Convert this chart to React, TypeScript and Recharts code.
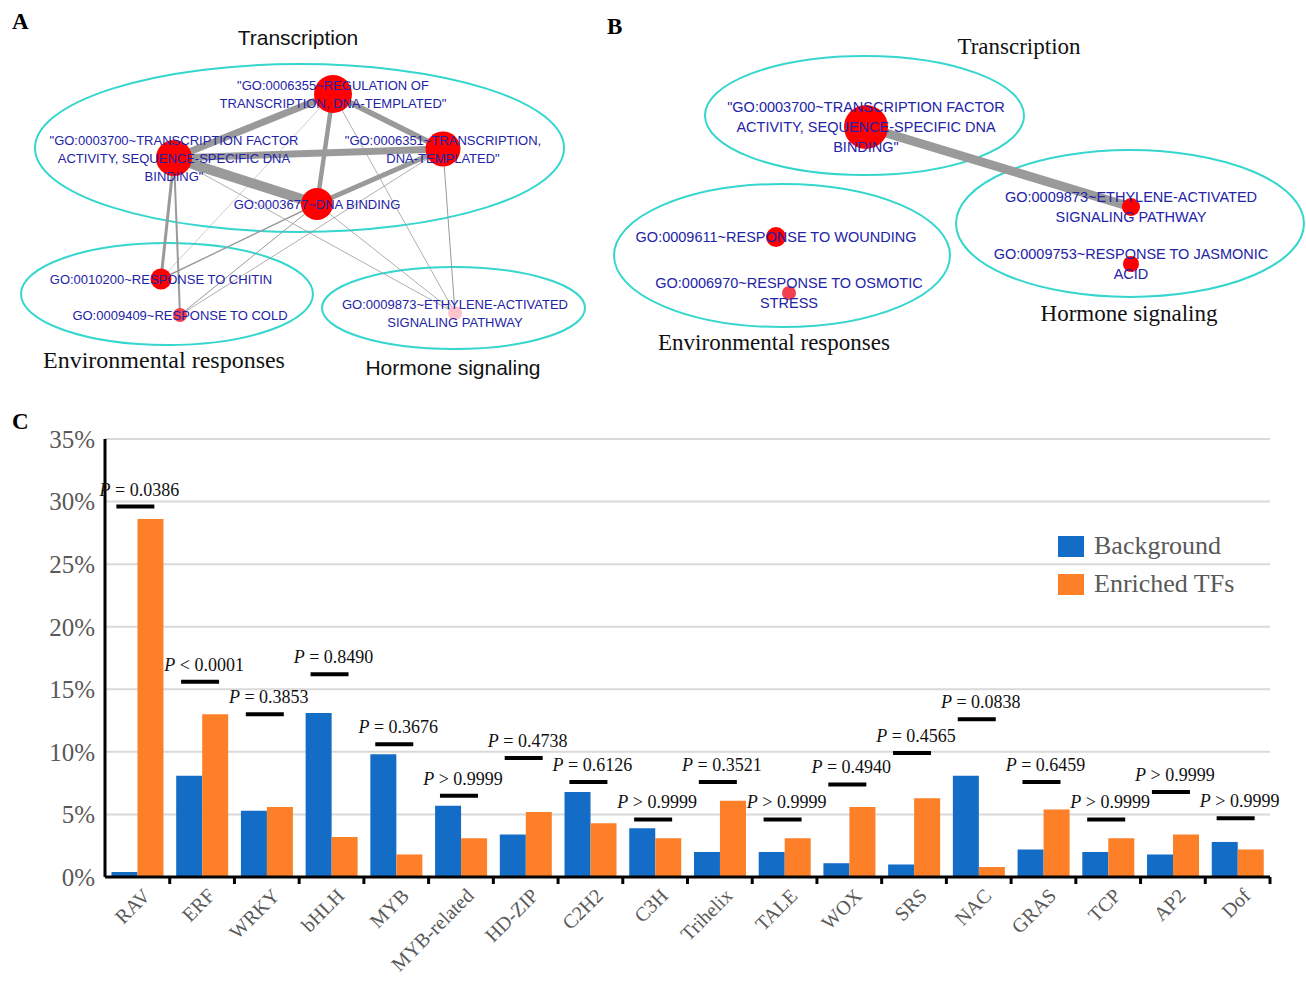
import React from "react";
import {
  ComposedChart,
  Bar,
  Line,
  XAxis,
  YAxis,
  CartesianGrid,
  Legend,
  ScatterChart,
  Scatter,
  ReferenceArea,
  ReferenceLine,
} from "recharts";

const SERIF = '"Liberation Serif", "Times New Roman", serif';
const SANS = '"Liberation Sans", Arial, sans-serif';

// ---------- panel C: TF family distribution ----------
const families = [
  "RAV", "ERF", "WRKY", "bHLH", "MYB", "MYB-related", "HD-ZIP", "C2H2", "C3H",
  "Trihelix", "TALE", "WOX", "SRS", "NAC", "GRAS", "TCP", "AP2", "Dof",
];
const background = [0.4, 8.1, 5.3, 13.1, 9.8, 5.7, 3.4, 6.8, 3.9, 2.0, 2.0, 1.1, 1.0, 8.1, 2.2, 2.0, 1.8, 2.8];
const enriched = [28.6, 13.0, 5.6, 3.2, 1.8, 3.1, 5.2, 4.3, 3.1, 6.1, 3.1, 5.6, 6.3, 0.8, 5.4, 3.1, 3.4, 2.2];
const pValues = [
  "= 0.0386", "< 0.0001", "= 0.3853", "= 0.8490", "= 0.3676", "> 0.9999", "= 0.4738", "= 0.6126", "> 0.9999",
  "= 0.3521", "> 0.9999", "= 0.4940", "= 0.4565", "= 0.0838", "= 0.6459", "> 0.9999", "> 0.9999", "> 0.9999",
];
// height (in %) of the bar above each pair
const pLevels = [29.6, 15.6, 13.0, 16.2, 10.6, 6.5, 9.5, 7.6, 4.6, 7.6, 4.6, 7.4, 9.9, 12.6, 7.6, 4.6, 6.8, 4.7];
const yTicks = [0, 5, 10, 15, 20, 25, 30, 35];

// ---------- panels A & B: GO term networks ----------
type GoNode = { id: string; x: number; y: number; size: number; level: number; lines: string[] };
type GoEdge = { from: string; to: string; weight: number };
type GoGroup = { name: string; x1: number; x2: number; y1: number; y2: number };
type Title = { name: string; x: number; y: number };

const nodesA: GoNode[] = [
  { id: "0006355", x: 333, y: 94, size: 19, level: 2, lines: ['"GO:0006355~REGULATION OF', 'TRANSCRIPTION, DNA-TEMPLATED"'] },
  { id: "0003700", x: 174, y: 158, size: 18, level: 2, lines: ['"GO:0003700~TRANSCRIPTION FACTOR', "ACTIVITY, SEQUENCE-SPECIFIC DNA", 'BINDING"'] },
  { id: "0006351", x: 443, y: 149, size: 17.5, level: 2, lines: ['"GO:0006351~TRANSCRIPTION,', 'DNA-TEMPLATED"'] },
  { id: "0003677", x: 317, y: 204, size: 16, level: 2, lines: ["GO:0003677~DNA BINDING"] },
  { id: "0010200", x: 161, y: 279, size: 10.5, level: 2, lines: ["GO:0010200~RESPONSE TO CHITIN"] },
  { id: "0009409", x: 180, y: 315, size: 7, level: 1, lines: ["GO:0009409~RESPONSE TO COLD"] },
  { id: "0009873", x: 455, y: 313, size: 7, level: 0, lines: ["GO:0009873~ETHYLENE-ACTIVATED", "SIGNALING PATHWAY"] },
];
const edgesA: GoEdge[] = [
  { from: "0003700", to: "0003677", weight: 10 },
  { from: "0006355", to: "0003700", weight: 7 },
  { from: "0003700", to: "0006351", weight: 7 },
  { from: "0006355", to: "0006351", weight: 5.5 },
  { from: "0006351", to: "0003677", weight: 5 },
  { from: "0006355", to: "0003677", weight: 4.5 },
  { from: "0003700", to: "0010200", weight: 3 },
  { from: "0003700", to: "0009409", weight: 2 },
  { from: "0003677", to: "0010200", weight: 1.4 },
  { from: "0003677", to: "0009409", weight: 1 },
  { from: "0006351", to: "0009409", weight: 0.8 },
  { from: "0006355", to: "0010200", weight: 0.5 },
  { from: "0006355", to: "0009873", weight: 0.8 },
  { from: "0003700", to: "0009873", weight: 0.8 },
  { from: "0006351", to: "0009873", weight: 1 },
  { from: "0003677", to: "0009873", weight: 0.8 },
];
const groupsA: GoGroup[] = [
  { name: "Transcription", x1: 35, x2: 564, y1: 64, y2: 232 },
  { name: "Environmental responses", x1: 21, x2: 313, y1: 243, y2: 345 },
  { name: "Hormone signaling", x1: 322, x2: 585, y1: 267, y2: 349 },
];
const titlesA: Title[] = [
  { name: "Transcription", x: 298, y: 45 },
  { name: "Environmental responses", x: 164, y: 368 },
  { name: "Hormone signaling", x: 453, y: 375 },
];

const nodesB: GoNode[] = [
  { id: "0003700", x: 266, y: 127, size: 22, level: 2, lines: ['"GO:0003700~TRANSCRIPTION FACTOR', "ACTIVITY, SEQUENCE-SPECIFIC DNA", 'BINDING"'] },
  { id: "0009873", x: 531, y: 207, size: 9, level: 2, lines: ["GO:0009873~ETHYLENE-ACTIVATED", "SIGNALING PATHWAY"] },
  { id: "0009753", x: 531, y: 264, size: 8, level: 2, lines: ["GO:0009753~RESPONSE TO JASMONIC", "ACID"] },
  { id: "0009611", x: 176, y: 237, size: 10, level: 2, lines: ["GO:0009611~RESPONSE TO WOUNDING"] },
  { id: "0006970", x: 189, y: 293, size: 7, level: 1, lines: ["GO:0006970~RESPONSE TO OSMOTIC", "STRESS"] },
];
const edgesB: GoEdge[] = [{ from: "0003700", to: "0009873", weight: 9 }];
const groupsB: GoGroup[] = [
  { name: "Transcription", x1: 105, x2: 424, y1: 56, y2: 175 },
  { name: "Environmental responses", x1: 14, x2: 350, y1: 184, y2: 327 },
  { name: "Hormone signaling", x1: 356, x2: 704, y1: 150, y2: 297 },
];
const titlesB: Title[] = [
  { name: "Transcription", x: 419, y: 54 },
  { name: "Environmental responses", x: 174, y: 350 },
  { name: "Hormone signaling", x: 529, y: 321 },
];

const nodeFill = ["#ffc3cb", "#f2404f", "#ff0000"];
const sansTitlesA = new Set(["Transcription", "Hormone signaling"]);

const renderEllipse = (props: any) => {
  const { x, y, width, height } = props;
  return (
    <ellipse
      cx={x + width / 2}
      cy={y + height / 2}
      rx={Math.abs(width) / 2}
      ry={Math.abs(height) / 2}
      fill="none"
      stroke="#35d6cd"
      strokeWidth={2}
    />
  );
};

type NetProps = {
  width: number;
  height: number;
  nodes: GoNode[];
  edges: GoEdge[];
  groups: GoGroup[];
  titles: Title[];
  fontSize: number;
  lineGap: number;
  titleSize: (name: string) => number;
  titleFont: (name: string) => string;
};

function Network({ width, height, nodes, edges, groups, titles, fontSize, lineGap, titleSize, titleFont }: NetProps) {
  const byId = new Map(nodes.map((n) => [n.id, n]));

  const renderNode = (props: any) => {
    const { cx, cy, payload } = props;
    const n = payload as GoNode;
    const top = cy - ((n.lines.length - 1) * lineGap) / 2;
    return (
      <g>
        <circle cx={cx} cy={cy} r={n.size} fill={nodeFill[n.level]} />
        <text textAnchor="middle" fontFamily={SANS} fontSize={fontSize} fill="#2323a6">
          {n.lines.map((l, i) => (
            <tspan key={i} x={cx} y={top + i * lineGap + fontSize * 0.36}>
              {l}
            </tspan>
          ))}
        </text>
      </g>
    );
  };

  const renderTitle = (props: any) => {
    const { cx, cy, payload } = props;
    return (
      <text x={cx} y={cy} textAnchor="middle" fontFamily={titleFont(payload.name)} fontSize={titleSize(payload.name)} fill="#111">
        {payload.name}
      </text>
    );
  };

  return (
    <ScatterChart width={width} height={height} margin={{ top: 0, right: 0, bottom: 0, left: 0 }}>
      <XAxis type="number" dataKey="x" domain={[0, width]} allowDataOverflow hide />
      <YAxis type="number" dataKey="y" domain={[0, height]} allowDataOverflow reversed hide />
      {groups.map((g) => (
        <ReferenceArea key={g.name} x1={g.x1} x2={g.x2} y1={g.y1} y2={g.y2} shape={renderEllipse} ifOverflow="visible" />
      ))}
      {edges.map((e) => {
        const a = byId.get(e.from)!;
        const b = byId.get(e.to)!;
        return (
          <ReferenceLine
            key={`${e.from}-${e.to}`}
            segment={[{ x: a.x, y: a.y }, { x: b.x, y: b.y }]}
            stroke="#9a9a9a"
            strokeWidth={e.weight}
            ifOverflow="visible"
          />
        );
      })}
      <Scatter data={nodes} shape={renderNode} isAnimationActive={false} />
      <Scatter data={titles} shape={renderTitle} isAnimationActive={false} />
    </ScatterChart>
  );
}

// ---------- panel C rendering ----------
const barData = families.map((name, i) => ({
  name,
  background: background[i],
  enriched: enriched[i],
  pLevel: pLevels[i],
  p: pValues[i],
}));

function FamilyTick(props: any) {
  const { x, y, payload, width } = props;
  const band = width / families.length;
  return (
    <g>
      <line x1={x + band / 2} x2={x + band / 2} y1={y} y2={y + 7} stroke="#000" strokeWidth={3} />
      <text
        transform={`translate(${x + 14},${y + 20}) rotate(-45)`}
        textAnchor="end"
        fontFamily={SERIF}
        fontSize={20}
        fill="#595959"
      >
        {payload.value}
      </text>
    </g>
  );
}

const renderP = (props: any) => {
  const { cx, cy, index, payload } = props;
  return (
    <g key={`p-${index}`}>
      <line x1={cx - 21} x2={cx + 17} y1={cy} y2={cy} stroke="#000" strokeWidth={4} />
      <text x={cx + 2} y={cy - 11} textAnchor="middle" fontFamily={SERIF} fontSize={18} fill="#111">
        <tspan fontStyle="italic">P</tspan>
        {` ${payload.p}`}
      </text>
    </g>
  );
};

const renderLegend = (props: any) => (
  <div>
    {(props.payload || [])
      .filter((item: any) => item.value === "Background" || item.value === "Enriched TFs")
      .map((item: any) => (
        <div key={item.value} style={{ display: "flex", alignItems: "center", height: 38 }}>
          <span style={{ width: 26, height: 21, background: item.color, marginRight: 10, display: "inline-block" }} />
          <span style={{ fontFamily: SERIF, fontSize: 26, color: "#595959" }}>{item.value}</span>
        </div>
      ))}
  </div>
);

const letterStyle: React.CSSProperties = {
  position: "absolute",
  fontFamily: SERIF,
  fontWeight: "bold",
  fontSize: 23,
  lineHeight: 1,
  color: "#000",
};

export default function App() {
  return (
    <div style={{ position: "absolute", left: 0, top: 0, width: 1306, height: 981, background: "#fff", overflow: "hidden" }}>
      <div style={{ position: "absolute", left: 0, top: 0 }}>
        <Network
          width={600}
          height={390}
          nodes={nodesA}
          edges={edgesA}
          groups={groupsA}
          titles={titlesA}
          fontSize={13}
          lineGap={18}
          titleSize={(n) => (sansTitlesA.has(n) ? 21 : 24)}
          titleFont={(n) => (sansTitlesA.has(n) ? SANS : SERIF)}
        />
      </div>
      <div style={{ position: "absolute", left: 600, top: 0 }}>
        <Network
          width={706}
          height={360}
          nodes={nodesB}
          edges={edgesB}
          groups={groupsB}
          titles={titlesB}
          fontSize={14.5}
          lineGap={20}
          titleSize={() => 23}
          titleFont={() => SERIF}
        />
      </div>
      <div style={{ position: "absolute", left: 0, top: 400 }}>
        <ComposedChart
          width={1306}
          height={581}
          data={barData}
          margin={{ top: 39, right: 36, bottom: 14, left: 10 }}
          barCategoryGap="10%"
          barGap={0}
        >
          <CartesianGrid vertical={false} stroke="#d9d9d9" strokeWidth={2} />
          <XAxis
            dataKey="name"
            interval={0}
            height={90}
            tickSize={0}
            tickMargin={0}
            tickLine={false}
            tick={<FamilyTick />}
            axisLine={{ stroke: "#000", strokeWidth: 3 }}
          />
          <YAxis
            domain={[0, 35]}
            ticks={yTicks}
            width={95}
            tickFormatter={(v: number) => `${v}%`}
            tick={{ fontFamily: SERIF, fontSize: 25, fill: "#595959" }}
            tickLine={false}
            tickMargin={4}
            axisLine={{ stroke: "#000", strokeWidth: 3 }}
          />
          <Legend
            content={renderLegend}
            layout="vertical"
            align="center"
            verticalAlign="middle"
            wrapperStyle={{ left: 1058, top: 127, width: 240 }}
          />
          <Bar dataKey="background" name="Background" fill="#136cc6" isAnimationActive={false} />
          <Bar dataKey="enriched" name="Enriched TFs" fill="#fd7f28" isAnimationActive={false} />
          <Line
            dataKey="pLevel"
            stroke="none"
            dot={renderP}
            activeDot={false}
            legendType="none"
            isAnimationActive={false}
          />
        </ComposedChart>
      </div>
      <div style={{ ...letterStyle, left: 12, top: 10 }}>A</div>
      <div style={{ ...letterStyle, left: 607, top: 15 }}>B</div>
      <div style={{ ...letterStyle, left: 12, top: 410 }}>C</div>
    </div>
  );
}
